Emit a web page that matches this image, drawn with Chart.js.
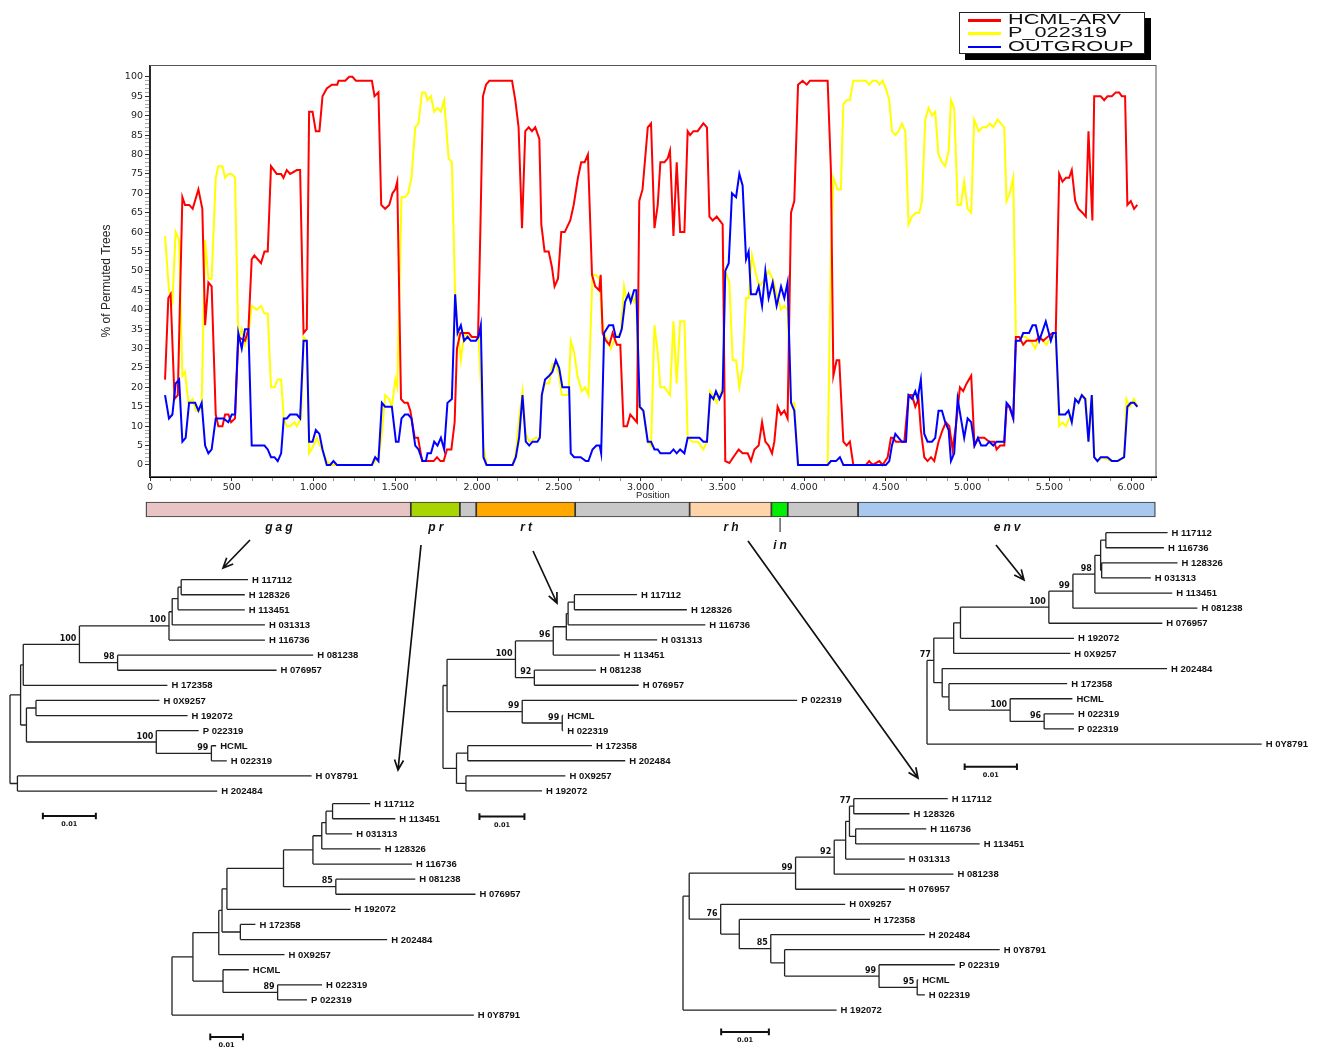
<!DOCTYPE html>
<html>
<head>
<meta charset="utf-8">
<script src="https://cdn.jsdelivr.net/npm/chart.js@4.4.1/dist/chart.umd.min.js"></script>
<style>
  body { margin: 0; background: #fff; }
  #page { position: relative; width: 1320px; height: 1047px; overflow: hidden; background: #fff; }
  #page canvas { position: absolute; }
  #legend {
    position: absolute; left: 959px; top: 12px; width: 184px; height: 40px;
    border: 1.5px solid #222; background: #fff; box-shadow: 6px 6px 0 #000;
    font-family: 'Liberation Sans', Arial, sans-serif; font-size: 14px; color: #111;
  }
  #legend .row { position: absolute; left: 0; height: 13px; }
  #legend .swatch { position: absolute; left: 8px; width: 33px; height: 2.5px; top: 5px; }
  #legend .txt { position: absolute; left: 48px; top: -2px; line-height: 14px; white-space: nowrap;
    transform: scaleX(1.55); transform-origin: 0 0; }
</style>
</head>
<body>
<div id="page">
  <canvas id="main" width="1160" height="505" style="left:0;top:0"></canvas>
  <canvas id="genome" width="1160" height="65" style="left:0;top:495px"></canvas>
  <div id="legend"></div>
</div>
<script>
// % of permuted trees along the genome, [position, value]
const hcmlArv = [[92,22],[112,43],[126,44],[150,17],[170,18],[198,69],[214,67],[240,67],[261,66],[296,71],[320,66],[337,36],[357,47],[377,46],[402,13],[418,10],[443,10],[459,13],[480,13],[496,11],[520,12],[540,33],[581,32],[602,35],[622,53],[638,54],[679,52],[700,55],[720,55],[740,77],[775,75],[802,75],[816,74],[836,76],[857,75],[898,76],[918,76],[939,34],[959,35],[973,91],[994,91],[1014,86],[1036,86],[1055,95],[1081,97],[1112,98],[1145,98],[1153,99],[1194,99],[1218,100],[1238,100],[1259,99],[1357,99],[1373,95],[1397,96],[1414,67],[1438,66],[1463,67],[1483,70],[1500,71],[1512,73],
  [1535,17],[1556,16],[1576,16],[1592,14],[1619,7],[1639,7],[1664,1],[1684,1],[1735,1],[1755,2],[1776,1],[1796,1],[1816,4],[1843,4],[1863,11],[1877,30],[1898,34],[1949,34],[1969,33],[2006,33],[2020,60],[2036,95],[2055,98],[2075,99],[2214,99],[2234,94],[2254,87],[2275,61],[2295,86],[2316,87],[2336,86],[2356,87],[2381,84],[2393,62],[2413,55],[2438,55],[2458,51],[2474,46],[2495,48],[2515,60],[2536,60],[2570,63],[2591,67],[2617,74],[2637,78],[2658,78],[2678,80],[2703,49],[2723,46],[2747,45],[2756,49],[2768,34],[2788,32],[2809,31],[2829,34],[2855,31],[2876,31],[2896,10],[2917,10],[2937,13],[2978,11],[2992,68],[3012,71],
  [3044,87],[3064,88],[3085,61],[3105,67],[3121,78],[3146,78],[3166,79],[3180,81],[3201,59],[3221,78],[3242,60],[3268,60],[3288,86],[3303,85],[3323,86],[3349,86],[3384,88],[3406,87],[3421,64],[3441,63],[3466,64],[3502,62],[3518,1],[3543,0.5],[3567,2],[3600,4],[3624,3],[3655,3],[3675,1],[3696,4],[3722,5],[3743,11],[3763,6],[3783,5],[3804,3],[3818,6],[3838,15],[3859,13],[3879,14],[3899,12],[3920,65],[3940,68],[3963,98],[3991,99],[4016,98],[4036,99],[4144,99],[4164,76],[4179,23],[4199,27],[4215,27],[4240,6],[4260,5],[4280,6],[4301,0],[4378,0],[4398,1],[4419,0],[4460,1],[4480,0],[4511,2],[4531,7],
  [4541,7],[4562,6],[4613,6],[4639,18],[4660,18],[4680,15],[4700,17],[4714,9],[4735,2],[4755,1],[4776,2],[4796,1],[4822,6],[4847,9],[4867,11],[4888,10],[4908,4],[4928,10],[4953,20],[4973,19],[4994,21],[5022,23],[5042,5],[5067,7],[5102,7],[5132,6],[5163,6],[5177,4],[5199,5],[5224,5],[5238,15],[5254,15],[5279,12],[5295,33],[5315,33],[5340,31],[5360,32],[5417,32],[5438,33],[5462,32],[5489,33],[5519,34],[5539,34],[5560,75],[5580,73],[5601,74],[5621,74],[5637,76],[5658,68],[5678,66],[5702,65],[5723,64],[5739,86],[5763,63],[5774,95],[5814,95],[5835,94],[5855,95],[5882,95],[5906,96],[5927,96],[5943,95],[5963,95],[5977,67],[5998,68],[6018,66],[6038,67]];

const p022319 = [[92,59],[116,45],[137,42],[157,60],[178,58],[198,23],[214,24],[235,16],[261,17],[282,14],[302,14],[316,16],[337,58],[357,48],[377,48],[402,74],[418,77],[443,77],[459,74],[480,75],[500,75],[520,74],[540,32],[561,35],[581,31],[602,34],[622,41],[653,40],[679,41],[700,39],[720,39],[740,20],[761,20],[781,22],[802,22],[818,12],[836,10],[857,10],[883,11],[898,10],[924,12],[939,33],[959,32],[973,3],[1000,5],[1020,7],[1040,5],[1061,3],[1081,1],[1108,0],[1357,0],[1397,2],[1418,8],[1438,18],[1463,17],[1479,15],[1500,22],[1512,20],
  [1538,69],[1559,69],[1579,70],[1599,74],[1622,87],[1642,88],[1663,96],[1683,96],[1697,94],[1718,95],[1738,91],[1758,92],[1779,91],[1799,94],[1826,79],[1846,78],[1866,44],[1881,35],[1901,27],[1921,34],[1942,33],[1993,33],[2009,33],[2023,21],[2039,5],[2058,0],[2217,0],[2237,3],[2257,12],[2278,19],[2298,8],[2319,6],[2359,7],[2384,7],[2396,18],[2416,21],[2441,21],[2461,26],[2482,26],[2502,23],[2518,18],[2559,18],[2573,32],[2594,29],[2614,23],[2640,19],[2661,20],[2681,18],[2706,49],[2726,49],[2750,48],[2763,38],[2777,34],[2797,32],[2818,30],[2848,33],[2879,34],[2899,46],[2913,43],[2934,44],[2960,42],[2974,44],[2987,15],
  [3017,14],[3044,6],[3064,5],[3085,36],[3105,29],[3121,20],[3146,20],[3180,18],[3201,37],[3221,21],[3242,37],[3268,37],[3288,7],[3319,6],[3349,6],[3384,4],[3406,6],[3425,19],[3441,18],[3466,16],[3492,19],[3502,19],[3518,50],[3543,47],[3563,27],[3584,27],[3604,20],[3624,25],[3645,43],[3661,43],[3681,54],[3706,49],[3726,46],[3763,48],[3783,50],[3808,48],[3832,44],[3859,40],[3879,41],[3899,40],[3920,16],[3940,16],[3963,0],[4144,0],[4164,55],[4179,74],[4205,71],[4225,71],[4240,93],[4260,94],[4280,94],[4301,99],[4378,99],[4398,98],[4419,99],[4443,99],[4460,98],[4480,99],[4500,97],[4521,94],
  [4537,86],[4558,85],[4578,86],[4598,88],[4619,86],[4639,62],[4660,64],[4684,65],[4704,65],[4721,68],[4741,89],[4761,92],[4782,90],[4802,91],[4822,80],[4843,78],[4863,77],[4884,81],[4898,94],[4918,92],[4939,67],[4959,67],[4979,73],[5000,66],[5022,65],[5040,89],[5067,86],[5091,87],[5116,87],[5136,88],[5157,87],[5183,89],[5203,88],[5224,87],[5238,68],[5258,70],[5279,74],[5295,33],[5326,33],[5356,33],[5387,32],[5413,30],[5438,33],[5462,32],[5482,31],[5509,33],[5539,33],[5560,10],[5580,11],[5601,10],[5621,12],[5637,12],[5658,17],[5682,16],[5702,18],[5723,17],[5739,6],[5763,18],[5774,2],[5794,1],[5825,2],[5876,1],[5927,1],[5957,2],[5971,17],[5992,15],[6018,17],[6038,15]];

const outgroup = [[92,18],[116,12],[137,13],[157,21],[178,22],[198,6],[218,7],[239,16],[276,16],[296,14],[316,16],[337,5],[357,3],[377,4],[402,12],[449,12],[479,11],[500,13],[520,13],[540,34],[561,30],[581,35],[602,35],[622,5],[700,5],[720,4],[740,2],[761,2],[781,1],[802,3],[818,12],[836,12],[857,13],[898,13],[918,12],[939,32],[959,32],[973,6],[994,6],[1014,9],[1036,8],[1055,4],[1081,0],[1102,0],[1122,1],[1143,0],[1357,0],[1377,2],[1397,1],[1418,16],[1438,15],[1479,15],
  [1504,6],[1520,6],[1538,12],[1559,13],[1579,13],[1599,12],[1622,5],[1642,4],[1667,1],[1687,1],[1697,3],[1718,3],[1738,6],[1758,5],[1779,7],[1799,4],[1819,16],[1846,17],[1866,44],[1881,34],[1901,36],[1921,32],[1942,33],[1962,32],[1993,32],[2009,33],[2023,36],[2039,2],[2058,0],[2217,0],[2237,2],[2257,7],[2278,18],[2298,6],[2319,5],[2339,6],[2369,6],[2384,7],[2396,18],[2416,22],[2441,23],[2461,24],[2482,27],[2502,25],[2522,20],[2563,20],[2573,3],[2594,2],[2634,2],[2665,1],[2681,1],[2706,4],[2730,5],[2750,5],[2759,3],[2777,34],[2807,36],[2832,36],[2848,33],[2869,33],[2885,35],[2905,42],[2926,44],[2940,42],[2960,45],[2974,45],[2995,15],
  [3017,14],[3044,6],[3064,6],[3085,4],[3105,4],[3121,3],[3146,3],[3166,3],[3180,3],[3201,4],[3221,3],[3242,4],[3268,3],[3288,7],[3319,7],[3360,7],[3384,6],[3406,6],[3425,18],[3445,17],[3461,19],[3482,17],[3502,19],[3518,50],[3539,52],[3559,70],[3584,69],[3604,75],[3624,72],[3645,53],[3661,55],[3675,44],[3706,44],[3722,46],[3743,41],[3763,50],[3783,43],[3808,47],[3832,41],[3859,46],[3879,43],[3899,47],[3920,16],[3940,14],[3963,0],[4144,0],[4164,1],[4195,1],[4219,2],[4240,0],[4500,0],[4521,1],
  [4537,5],[4558,8],[4578,7],[4598,6],[4623,6],[4639,18],[4660,17],[4680,19],[4694,17],[4714,22],[4735,8],[4755,6],[4782,6],[4802,7],[4822,14],[4843,14],[4863,11],[4884,9],[4898,1],[4918,3],[4939,17],[4959,12],[4979,7],[5000,12],[5022,11],[5042,5],[5063,7],[5083,5],[5112,5],[5132,6],[5157,5],[5177,6],[5197,6],[5224,6],[5238,16],[5258,15],[5279,12],[5295,32],[5320,32],[5340,34],[5376,34],[5397,36],[5417,36],[5438,32],[5478,37],[5509,32],[5523,34],[5539,34],[5560,13],[5576,13],[5597,13],[5617,14],[5637,11],[5658,17],[5678,16],[5698,18],[5719,17],[5739,6],[5759,18],[5774,2],[5794,1],[5814,2],[5855,2],[5882,1],[5916,1],[5957,2],[5977,15],[5998,16],[6018,16],[6038,15]];

// genome map
const geneNames = ['gag', 'pr', null, 'rt', null, 'rh', 'in', null, 'env'];
const geneStart = [-25, 1595, 1895, 1995, 2600, 3300, 3800, 3900, 4330];
const geneEnd   = [1595, 1895, 1995, 2600, 3300, 3800, 3900, 4330, 6148];

// trees (branch lengths in 0.001 substitutions/site)
const treeGag = "((((((((H 117112:12.6,H 128326:12.0):0.6,H 113451:12.6):1.1,H 031313:17.5):0.6,H 116736:18.1)100:16.9,(H 081238:36.9,H 076957:30.0)98:7.2)100:10.6,H 172358:27.2):0.5,((H 0X9257:23.3,H 192072:28.6):1.8,(P 022319:8.0,(HCML:0.9,H 022319:2.9)99:10.4)100:24.5):1.1):2.0,(H 0Y8791:55.5,H 202484:37.7):1.4);";
const treePr = "((((((((((H 117112:11.5,H 113451:19.2):2.0,H 031313:8.0):1.3,H 128326:18.0):2.7,H 116736:30.3):9.0,(H 081238:24.3,H 076957:42.7)85:16.0):17.3,H 192072:37.8):1.5,(H 172358:4.6,H 202484:44.9):5.6):1.0,H 0X9257:20.1):7.9,(HCML:7.9,(H 022319:13.6,P 022319:9.0)89:16.7):9.2):6.4,H 0Y8791:92.3);";
const treeRt = "(((((((H 117112:13.9,H 128326:25.0):1.4,H 116736:30.5):0.4,H 031313:20.2):2.9,H 113451:14.8)96:8.4,(H 081238:13.7,H 076957:23.2)92:4.2)100:15.2,(P 022319:61.1,(HCML:0.2,H 022319:0.2)99:8.9)99:16.7):0.9,((H 172358:27.6,H 202484:35.0):2.5,(H 0X9257:22.1,H 192072:16.9):2.1):3.0);";
const treeRh = "(((((((H 117112:19.7,H 128326:11.7)77:0.9,(H 116736:14.8,H 113451:26.0):1.3):0.8,H 031313:12.4):2.4,H 081238:25.0)92:8.1,H 076957:22.9)99:22.3,(H 0X9257:26.1,(H 172358:27.4,(H 202484:32.3,(H 0Y8791:45.1,(P 022319:15.9,(HCML:0.2,H 022319:1.6)95:8.0)99:19.8):2.9)85:6.6):3.9)76:6.6):1.3,H 192072:32.2);";
const treeEnv = "(((((((((H 117112:11.8,H 116736:11.1):1.0,(H 128326:14.5,H 031313:9.4):0.2):1.1,H 113451:14.8)98:4.2,H 081238:23.8)99:4.6,H 076957:21.7)100:16.9,H 192072:21.7):1.3,H 0X9257:22.3):3.8,(H 202484:43.0,(H 172358:22.6,(HCML:11.9,(H 022319:5.7,P 022319:5.7)96:6.5)100:11.7):1.3):1.6)77:1.3,H 0Y8791:64.0);";

const SANS = "'Liberation Sans', Arial, sans-serif";
const DJ = "'DejaVu Sans', sans-serif";
const XMAX = 6152;

const fmtPos = v => v >= 1000 ? Math.floor(v / 1000) + '.' + String(v % 1000).padStart(3, '0') : String(v);
const toPts = arr => arr.map(([x, y]) => ({ x, y }));

// legend
const legendItems = [['HCML-ARV', '#ff0000'], ['P_022319', '#ffff00'], ['OUTGROUP', '#0000ff']];
document.getElementById('legend').innerHTML = legendItems.map((it, i) =>
  `<div class="row" style="top:${1 + i * 13.4}px"><div class="swatch" style="background:${it[1]}"></div><span class="txt">${it[0]}</span></div>`).join('');

// main plot
const frame = {
  id: 'frame',
  beforeDatasetsDraw(chart) {
    const a = chart.chartArea, c = chart.ctx;
    c.save();
    c.strokeStyle = '#555'; c.lineWidth = 1;
    c.strokeRect(a.left, a.top - 0.5, a.right - a.left, a.bottom - a.top);
    c.restore();
  },
  afterDraw(chart) {
    const c = chart.ctx;
    c.save();
    c.fillStyle = '#222';
    c.font = '9.5px ' + SANS;
    c.textAlign = 'center'; c.textBaseline = 'middle';
    c.fillText('Position', (chart.chartArea.left + chart.chartArea.right) / 2, 495);
    c.translate(107, 281);
    c.rotate(-Math.PI / 2);
    c.font = "12px 'Liberation Sans Narrow', 'Liberation Sans', Arial, sans-serif";
    c.fillText('% of Permuted Trees', 0, 0);
    c.restore();
  }
};

new Chart(document.getElementById('main'), {
  type: 'line',
  data: {
    datasets: [
      { label: 'OUTGROUP', data: toPts(outgroup), borderColor: '#0000ff', order: 0 },
      { label: 'HCML-ARV', data: toPts(hcmlArv), borderColor: '#ff0000', order: 1 },
      { label: 'P_022319', data: toPts(p022319), borderColor: '#ffff00', order: 2 }
    ]
  },
  options: {
    responsive: false, animation: false,
    elements: { point: { radius: 0 }, line: { borderWidth: 2, tension: 0 } },
    layout: { padding: { top: 66, right: 4, left: 0, bottom: 0 } },
    plugins: { legend: { display: false }, tooltip: { enabled: false } },
    scales: {
      x: {
        type: 'linear', min: 0, max: XMAX,
        afterFit: s => { s.height = 28; },
        afterBuildTicks: s => { s.ticks = []; for (let v = 0; v <= 6125; v += 125) s.ticks.push({ value: v }); },
        ticks: { autoSkip: false, maxRotation: 0, padding: 1, color: '#222', font: { size: 9.5, family: DJ },
          callback: v => v % 500 === 0 ? fmtPos(v) : '' },
        grid: { drawOnChartArea: false, tickLength: 4, tickColor: c => c.tick && c.tick.value % 500 === 0 ? '#333' : '#999' },
        border: { color: '#000', width: 2 }
      },
      y: {
        type: 'linear', min: -3.1, max: 102.8,
        afterFit: s => { s.width = 150; },
        afterBuildTicks: s => { s.ticks = []; for (let v = 0; v <= 100; v++) s.ticks.push({ value: v }); },
        ticks: { autoSkip: false, padding: 2, color: '#222', font: { size: 9.5, family: DJ },
          callback: v => v % 5 === 0 ? String(v) : '' },
        grid: { drawOnChartArea: false, tickLength: 5, tickColor: c => c.tick && c.tick.value % 5 === 0 ? '#333' : '#aaa' },
        border: { color: '#000', width: 2 }
      }
    }
  },
  plugins: [frame]
});

// genome map bar
const geneColors = ['#e8c4c4', '#a8d400', '#c8c8c8', '#ffa800', '#c8c8c8', '#ffd4a8', '#00ee00', '#c8c8c8', '#a8c8f0'];
const geneLabels = {
  id: 'geneLabels',
  afterDraw(chart) {
    const c = chart.ctx, x = chart.scales.x, b = chart.chartArea.bottom;
    c.save();
    c.fillStyle = '#111'; c.strokeStyle = '#111'; c.lineWidth = 1;
    c.font = 'italic bold 12px ' + SANS;
    c.letterSpacing = '3px';
    c.textAlign = 'center'; c.textBaseline = 'middle';
    geneNames.forEach((g, i) => {
      if (!g) return;
      const cx = x.getPixelForValue((geneStart[i] + geneEnd[i]) / 2);
      if (g === 'in') {
        c.beginPath(); c.moveTo(cx + 0.5, b + 1); c.lineTo(cx + 0.5, b + 15); c.stroke();
        c.fillText(g, cx + 2, b + 29);
      } else {
        c.fillText(g, cx + 2, b + 11);
      }
    });
    c.restore();
  }
};

new Chart(document.getElementById('genome'), {
  type: 'bar',
  data: {
    labels: ['genome'],
    datasets: geneNames.map((g, i) => ({
      label: g || 'gap', data: [[geneStart[i], geneEnd[i]]],
      backgroundColor: geneColors[i], borderColor: '#333', borderWidth: 1.2, borderSkipped: false,
      barPercentage: 1, categoryPercentage: 1, grouped: false, clip: false
    }))
  },
  options: {
    indexAxis: 'y', responsive: false, animation: false,
    layout: { padding: { left: 150, right: 4, top: 7, bottom: 43 } },
    plugins: { legend: { display: false }, tooltip: { enabled: false } },
    scales: { x: { type: 'linear', min: 0, max: XMAX, display: false }, y: { display: false } }
  },
  plugins: [geneLabels]
});

// trees
function parseNewick(s) {
  let i = 0;
  function node() {
    const n = { children: [], name: '', len: 0 };
    if (s[i] === '(') {
      i++;
      n.children.push(node());
      while (s[i] === ',') { i++; n.children.push(node()); }
      i++;
    }
    let name = '';
    while (i < s.length && !':,();'.includes(s[i])) name += s[i++];
    n.name = name.trim();
    if (s[i] === ':') {
      i++;
      let num = '';
      while (i < s.length && !',();'.includes(s[i])) num += s[i++];
      n.len = parseFloat(num);
    }
    return n;
  }
  return node();
}

const ROW = 15.1;

function drawTree(newick, cfg) {
  const root = parseNewick(newick);
  const leaves = [], inner = [], segs = [];
  (function lay(n, x) {
    n.x = x;
    if (!n.children.length) { n.y = leaves.length; leaves.push(n); return; }
    n.children.forEach(ch => lay(ch, x + ch.len));
    n.y = (n.children[0].y + n.children[n.children.length - 1].y) / 2;
  })(root, 0);
  (function walk(n) {
    if (!n.children.length) return;
    const f = n.children[0], l = n.children[n.children.length - 1];
    segs.push({ x: n.x, y: f.y }, { x: n.x, y: l.y }, { x: n.x, y: null });
    n.children.forEach(ch => {
      segs.push({ x: n.x, y: ch.y }, { x: ch.x, y: ch.y }, { x: ch.x, y: null });
      walk(ch);
    });
    if (n !== root && n.name) inner.push(n);
  })(root);

  const [bx, brow] = cfg.bar;
  const bar = [{ x: bx, y: brow }, { x: bx + 10, y: brow }, { x: bx, y: null },
    { x: bx, y: brow - 0.22 }, { x: bx, y: brow + 0.22 }, { x: bx, y: null },
    { x: bx + 10, y: brow - 0.22 }, { x: bx + 10, y: brow + 0.22 }];

  const maxX = Math.max(...leaves.map(l => l.x));
  const w = Math.round(10 + maxX * cfg.ppu + 75);
  const h = Math.round((leaves.length + 3.6) * ROW);
  const cv = document.createElement('canvas');
  cv.width = w; cv.height = h;
  cv.style.left = (cfg.left - 10) + 'px';
  cv.style.top = (cfg.top - 1.5 * ROW) + 'px';
  document.getElementById('page').appendChild(cv);

  const xmin = -10 / cfg.ppu;
  const labels = {
    id: 'treeLabels',
    afterDatasetsDraw(chart) {
      const c = chart.ctx, xs = chart.scales.x, ys = chart.scales.y;
      c.save();
      c.fillStyle = '#111';
      c.font = 'bold 9.5px ' + SANS;
      c.textAlign = 'left'; c.textBaseline = 'middle';
      leaves.forEach(l => c.fillText(l.name, xs.getPixelForValue(l.x) + 4, ys.getPixelForValue(l.y) + 0.5));
      c.font = 'bold 8px ' + DJ;
      c.textAlign = 'right'; c.textBaseline = 'bottom';
      inner.forEach(n => c.fillText(n.name, xs.getPixelForValue(n.x) - 3, ys.getPixelForValue(n.y) - 1.5));
      c.font = 'bold 6.5px ' + DJ;
      c.textAlign = 'center'; c.textBaseline = 'top';
      c.fillText('0.01', xs.getPixelForValue(bx + 5), ys.getPixelForValue(brow) + 5);
      c.restore();
    }
  };

  new Chart(cv, {
    type: 'scatter',
    data: {
      datasets: [
        { data: segs, showLine: true, borderColor: '#222', borderWidth: 1.3, pointRadius: 0, spanGaps: false },
        { data: bar, showLine: true, borderColor: '#111', borderWidth: 2, pointRadius: 0, spanGaps: false }
      ]
    },
    options: {
      responsive: false, animation: false,
      layout: { padding: 0 },
      plugins: { legend: { display: false }, tooltip: { enabled: false } },
      scales: {
        x: { type: 'linear', display: false, min: xmin, max: xmin + w / cfg.ppu },
        y: { type: 'linear', display: false, reverse: true, min: -1.5, max: -1.5 + h / ROW }
      }
    },
    plugins: [labels]
  });
}

drawTree(treeGag, { left: 10, top: 580, ppu: 5.3, bar: [6.2, 15.65] });
drawTree(treePr, { left: 171.7, top: 803.3, ppu: 3.27, bar: [11.7, 15.45] });
drawTree(treeRt, { left: 442.7, top: 595, ppu: 4.5, bar: [8.1, 14.7] });
drawTree(treeRh, { left: 683.3, top: 798.3, ppu: 4.77, bar: [8.0, 15.45] });
drawTree(treeEnv, { left: 926.7, top: 532.7, ppu: 5.23, bar: [7.2, 15.5] });

// arrows from gene labels to trees
const arrows = [[250, 540, 223, 568], [421, 545, 398, 770], [533, 551, 557, 603], [748, 541, 918, 778], [996, 545, 1024, 580]];
const arrowCv = document.createElement('canvas');
arrowCv.width = 1320; arrowCv.height = 1047;
arrowCv.style.left = '0px'; arrowCv.style.top = '0px'; arrowCv.style.pointerEvents = 'none';
document.getElementById('page').appendChild(arrowCv);
new Chart(arrowCv, {
  type: 'scatter',
  data: {
    datasets: arrows.map(([x1, y1, x2, y2]) => {
      const L = Math.hypot(x2 - x1, y2 - y1), dx = (x2 - x1) / L, dy = (y2 - y1) / L;
      const bx = x2 - 10 * dx, by = y2 - 10 * dy;
      return {
        data: [{ x: x1, y: y1 }, { x: x2, y: y2 }, { x: x2, y: null },
          { x: bx - 4.5 * dy, y: by + 4.5 * dx }, { x: x2, y: y2 }, { x: bx + 4.5 * dy, y: by - 4.5 * dx }],
        showLine: true, borderColor: '#111', borderWidth: 1.7, pointRadius: 0, spanGaps: false
      };
    })
  },
  options: {
    responsive: false, animation: false, layout: { padding: 0 },
    plugins: { legend: { display: false }, tooltip: { enabled: false } },
    scales: { x: { type: 'linear', display: false, min: 0, max: 1320 }, y: { type: 'linear', display: false, reverse: true, min: 0, max: 1047 } }
  }
});
</script>
</body>
</html>
